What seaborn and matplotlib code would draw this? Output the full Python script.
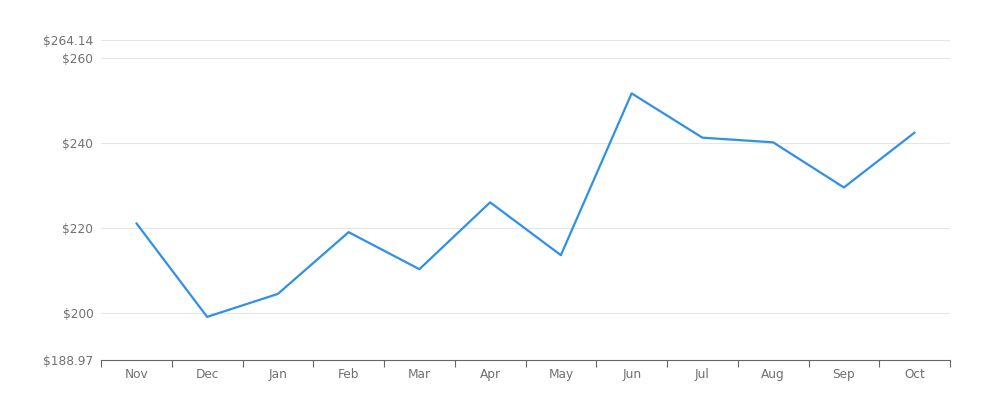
import numpy as np
import pandas as pd
import seaborn as sns
import matplotlib.pyplot as plt
from matplotlib.ticker import FixedLocator

months = ['Nov', 'Dec', 'Jan', 'Feb', 'Mar', 'Apr', 'May', 'Jun', 'Jul', 'Aug', 'Sep', 'Oct']
price = [221.1, 199.1, 204.5, 219.0, 210.3, 226.0, 213.6, 251.6, 241.2, 240.1, 229.5, 242.4]
y_min, y_max = 188.97, 264.14
y_ticks = [188.97, 200, 220, 240, 260, 264.14]

df = pd.DataFrame({'month': months, 'price': price})

sns.set_style('white')
plt.rcParams['font.family'] = ['DejaVu Sans']

fig = plt.figure(figsize=(10, 4), dpi=100)
ax = fig.add_axes([0.101, 0.1, 0.849, 0.8])

sns.lineplot(data=df, x='month', y='price', ax=ax, color='#3090e8', linewidth=1.6, sort=False)

ax.set_xlim(-0.5, len(months) - 0.5)
ax.set_ylim(y_min, y_max)

ax.set_yticks(y_ticks)
ax.set_yticklabels([f'${v:g}' if v % 1 == 0 else f'${v:.2f}' for v in y_ticks])
for v in y_ticks[1:]:
    ax.axhline(v, color='#e6e6e6', linewidth=0.8, zorder=0)

ax.set_xticks(range(len(months)))
ax.set_xticklabels(months)
ax.xaxis.set_minor_locator(FixedLocator(np.arange(-0.5, len(months), 1.0)))
ax.tick_params(axis='x', which='major', bottom=True, length=0, pad=5.5, labelsize=8.7, labelcolor='#707070')
ax.tick_params(axis='x', which='minor', bottom=True, length=5, width=0.8, color='#666666', direction='out')
ax.tick_params(axis='y', length=0, pad=5.5, labelsize=8.7, labelcolor='#707070')

for s in ['top', 'right', 'left']:
    ax.spines[s].set_visible(False)
ax.spines['bottom'].set_color('#666666')
ax.spines['bottom'].set_linewidth(0.8)

ax.set_xlabel('')
ax.set_ylabel('')

fig.savefig('out.png', dpi=100)
